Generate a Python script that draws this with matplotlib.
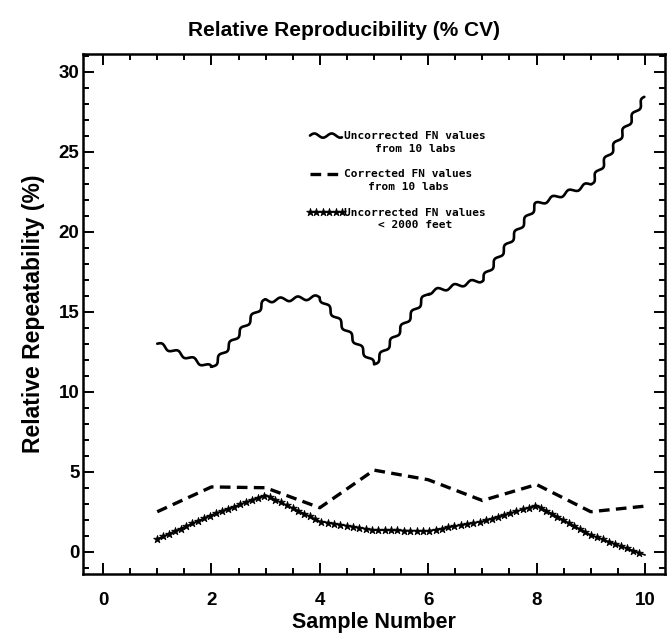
import numpy as np
import matplotlib
matplotlib.use("Agg")
import matplotlib.pyplot as plt
from matplotlib import patheffects
from matplotlib.path import Path
from matplotlib.transforms import Affine2D
from matplotlib.markers import MarkerStyle
from matplotlib.ticker import MultipleLocator
from matplotlib.legend_handler import HandlerLine2D
from matplotlib.lines import Line2D

# ---- data ----
samples = [1, 2, 3, 4, 5, 6, 7, 8, 9, 10]
uncorrected_10labs = [13.0, 11.5, 15.7, 15.9, 11.7, 16.2, 17.0, 21.7, 23.0, 28.4]
corrected_10labs = [2.5, 4.05, 4.0, 2.75, 5.1, 4.5, 3.2, 4.2, 2.5, 2.85]
uncorrected_2000ft = [0.8, 2.3, 3.55, 1.9, 1.35, 1.3, 1.9, 2.9, 1.05, -0.2]
series_labels = ["Uncorrected FN values\nfrom 10 labs",
                 "Corrected FN values\nfrom 10 labs",
                 "Uncorrected FN values\n< 2000 feet"]
x_ticks = [0, 2, 4, 6, 8, 10]
y_ticks = [0, 5, 10, 15, 20, 25, 30]
title = "Relative Reproducibility (% CV)"
xlabel = "Sample Number"
ylabel = "Relative Repeatability (%)"


def _resample(verts, step):
    seg = np.diff(verts, axis=0)
    seglen = np.hypot(seg[:, 0], seg[:, 1])
    cum = np.concatenate([[0.0], np.cumsum(seglen)])
    if cum[-1] <= 0:
        return verts[:, 0], verts[:, 1], np.zeros(len(verts))
    s = np.arange(0.0, cum[-1] + 1e-9, step)
    x = np.interp(s, cum, verts[:, 0])
    y = np.interp(s, cum, verts[:, 1])
    return x, y, s


class Wavy(patheffects.AbstractPathEffect):
    """Draw the path as a wavy (sinusoidal) stroke."""
    def __init__(self, wavelength=12.5, amplitude=1.5):
        super().__init__()
        self.wavelength = wavelength
        self.amplitude = amplitude

    def draw_path(self, renderer, gc, tpath, affine, rgbFace=None):
        verts = affine.transform(tpath.vertices)
        wl = renderer.points_to_pixels(self.wavelength)
        amp = renderer.points_to_pixels(self.amplitude)
        x, y, s = _resample(verts, 0.4)
        dx = np.gradient(x)
        dy = np.gradient(y)
        n = np.hypot(dx, dy)
        n[n == 0] = 1
        nx, ny = -dy / n, dx / n
        off = amp * np.sin(2 * np.pi * s / wl)
        pts = np.column_stack([x + nx * off, y + ny * off])
        renderer.draw_path(gc, Path(pts), Affine2D(), None)


class StarTrail(patheffects.AbstractPathEffect):
    """Draw a thin line with small star markers densely along it."""
    def __init__(self, spacing=4.6, size=5.8):
        super().__init__()
        self.spacing = spacing
        self.size = size

    def draw_path(self, renderer, gc, tpath, affine, rgbFace=None):
        gc0 = renderer.new_gc()
        gc0.copy_properties(gc)
        gc0.set_linewidth(1.2)
        renderer.draw_path(gc0, tpath, affine, None)
        verts = affine.transform(tpath.vertices)
        sp = renderer.points_to_pixels(self.spacing)
        x, y, s = _resample(verts, sp)
        m = MarkerStyle("*")
        mtrans = m.get_transform() + Affine2D().scale(renderer.points_to_pixels(self.size))
        gc1 = renderer.new_gc()
        gc1.copy_properties(gc)
        gc1.set_linewidth(0.6)
        gc1.set_dashes(0, None)
        renderer.draw_markers(gc1, m.get_path(), mtrans,
                              Path(np.column_stack([x, y])), Affine2D(),
                              (0, 0, 0, 1))
        gc0.restore()
        gc1.restore()


class FirstLineHandler(HandlerLine2D):
    """Legend handle aligned with the first line of a two-line label."""
    def create_artists(self, legend, orig_handle, xdescent, ydescent,
                       width, height, fontsize, trans):
        arts = super().create_artists(legend, orig_handle, xdescent, ydescent,
                                      width, height, fontsize, trans)
        for a in arts:
            if isinstance(a, Line2D):
                a.set_ydata(np.asarray(a.get_ydata(), dtype=float) + 0.62 * fontsize)
        return arts


fig = plt.figure(figsize=(6.70, 6.39), dpi=100)
ax = fig.add_axes([83 / 670, 1 - 574 / 639, (665 - 83) / 670, (574 - 54) / 639])

bold = dict(family="Liberation Sans", weight="bold")

ax.plot(samples, uncorrected_10labs, color="black", lw=1.9,
        path_effects=[Wavy()], label=series_labels[0],
        solid_capstyle="round")
ax.plot(samples, corrected_10labs, color="black", lw=2.4,
        dashes=(3.2, 1.9), label=series_labels[1], dash_capstyle="butt")
ax.plot(samples, uncorrected_2000ft, color="black", lw=1.0,
        path_effects=[StarTrail()], label=series_labels[2])

ax.set_xlim(-0.37, 10.37)
ax.set_ylim(-1.39, 31.1)
ax.set_xticks(x_ticks)
ax.set_yticks(y_ticks)
ax.xaxis.set_minor_locator(MultipleLocator(0.5))
ax.yaxis.set_minor_locator(MultipleLocator(1))
ax.tick_params(which="both", direction="in", top=True, right=True, width=1.4)
ax.tick_params(which="major", length=8)
ax.tick_params(which="minor", length=4)
ax.tick_params(axis="x", which="major", pad=13)
ax.tick_params(axis="y", which="major", pad=2.5)
for lab in ax.get_xticklabels() + ax.get_yticklabels():
    lab.set_fontfamily("Liberation Sans")
    lab.set_fontweight("bold")
    lab.set_fontsize(13.5)
for sp in ax.spines.values():
    sp.set_linewidth(1.8)

ax.set_xlabel(xlabel, fontsize=15.5, labelpad=2, **bold)
ax.set_ylabel(ylabel, fontsize=16.5, labelpad=10, **bold)
fig.text(344 / 670, 1 - 31 / 639, title, ha="center", va="center",
         fontsize=15, **bold)

leg = ax.legend(loc="upper left", bbox_to_anchor=(0.39, 0.852),
                frameon=False, borderaxespad=0, borderpad=0,
                handlelength=2.9, handletextpad=0.2, labelspacing=1.4,
                handler_map={Line2D: FirstLineHandler()},
                prop=dict(family="DejaVu Sans Mono", weight="bold", size=8.0))
for t in leg.get_texts():
    t.set_multialignment("center")
    t.set_linespacing(1.35)

fig.savefig("out.png", dpi=100)
